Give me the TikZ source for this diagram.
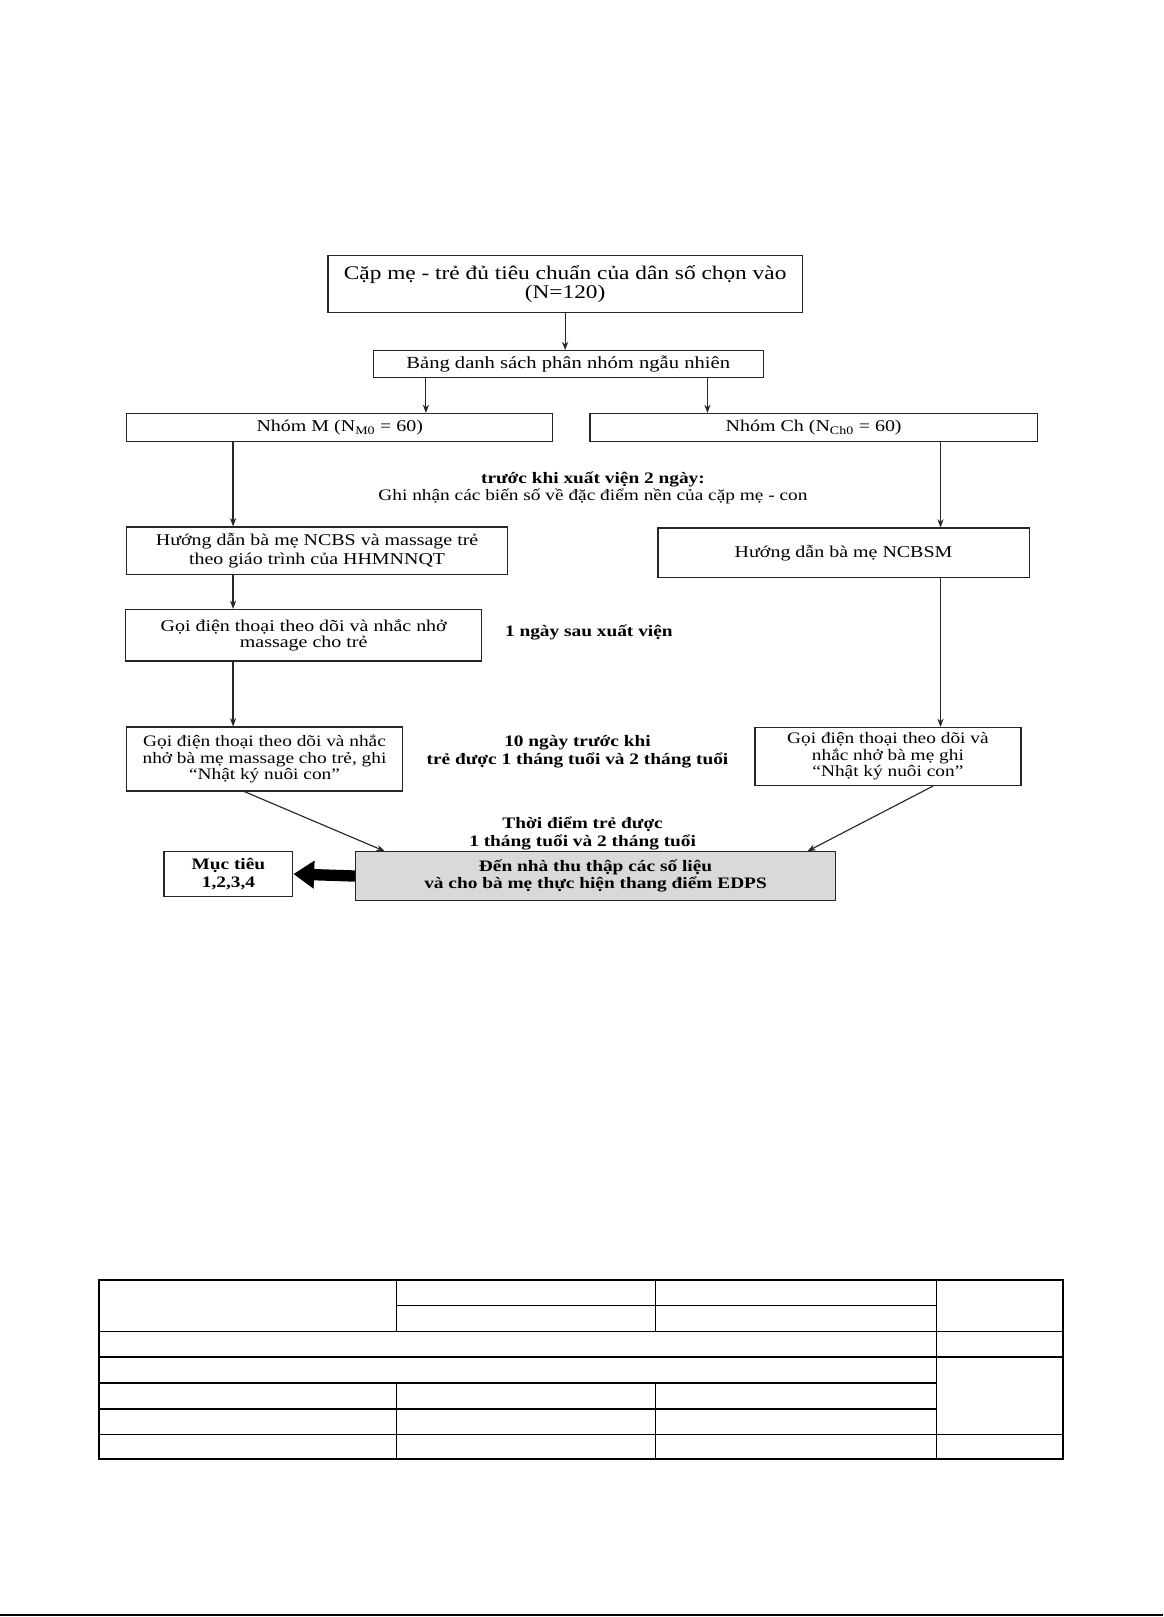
\documentclass[tikz,border=0pt]{standalone}
\usepackage{fontspec}
\setmainfont{Liberation Serif}[FakeStretch=1.21]
\usetikzlibrary{arrows.meta}
\tikzset{
  box/.style={draw=black!85, line width=1.2pt, inner sep=0pt, align=center, font=\fontsize{16}{19}\selectfont},
  lab/.style={inner sep=0pt, align=center, font=\bfseries\fontsize{15.5}{17}\selectfont},
  arr/.style={draw=black!85, line width=1.1pt, -{Stealth[length=8pt,width=6pt]}},
  tline/.style={line width=1.6pt},
  tthin/.style={line width=0.9pt},
}
\begin{document}
\begin{tikzpicture}[x=1pt,y=-1pt]
\useasboundingbox (0,0) rectangle (1128,1568);
% boxes
\node[box, minimum width=460, minimum height=55, font=\fontsize{18.7}{19}\selectfont] (b1) at (548,275.5) {Cặp mẹ - trẻ đủ tiêu chuẩn của dân số chọn vào\\(N=120)};
\node[box, minimum width=378, minimum height=26, font=\fontsize{16.5}{19}\selectfont] (b2) at (551,353) {Bảng danh sách phân nhóm ngẫu nhiên};
\node[box, minimum width=413, minimum height=27] (b3) at (329.5,414.5) {Nhóm M (N\textsubscript{M0} = 60)};
\node[box, minimum width=434, minimum height=27] (b4) at (789,414.5) {Nhóm Ch (N\textsubscript{Ch0} = 60)};
\node[lab, font=\fontsize{15.5}{16}\selectfont] (l1) at (575,473) {\textbf{trước khi xuất viện 2 ngày:}\\\mdseries Ghi nhận các biến số về đặc điểm nền của cặp mẹ - con};
\node[box, minimum width=369, minimum height=46] (b5) at (307.5,534) {Hướng dẫn bà mẹ NCBS và massage trẻ\\theo giáo trình của HHMNNQT};
\node[box, minimum width=360, minimum height=48] (b6) at (818,536) {Hướng dẫn bà mẹ NCBSM};
\node[box, minimum width=345, minimum height=50, font=\fontsize{16}{16}\selectfont] (b7) at (294.5,616) {Gọi điện thoại theo dõi và nhắc nhở\\massage cho trẻ};
\node[lab] (l2) at (571,613) {1 ngày sau xuất viện};
\node[box, minimum width=267, minimum height=62, font=\fontsize{15.5}{16}\selectfont] (b8) at (256.5,736) {Gọi điện thoại theo dõi và nhắc\\nhở bà mẹ massage cho trẻ, ghi\\“Nhật ký nuôi con”};
\node[box, minimum width=258, minimum height=56, font=\fontsize{15.5}{16}\selectfont] (b9) at (861,733.5) {Gọi điện thoại theo dõi và\\nhắc nhở bà mẹ ghi\\“Nhật ký nuôi con”};
\node[lab] (l3) at (560,729) {10 ngày trước khi\\trẻ được 1 tháng tuổi và 2 tháng tuổi};
\node[lab] (l4) at (565,808) {Thời điểm trẻ được\\1 tháng tuổi và 2 tháng tuổi};
\node[box, fill=black!15, minimum width=465, minimum height=47, font=\bfseries\fontsize{15.5}{17}\selectfont] (b10) at (577.5,849.5) {Đến nhà thu thập các số liệu\\và cho bà mẹ thực hiện thang điểm EDPS};
\node[box, minimum width=125, minimum height=43, font=\bfseries\fontsize{15.5}{17}\selectfont] (b11) at (221.5,847.5) {Mục tiêu\\1,2,3,4};
% connector x positions
\coordinate (xa) at (548,0);
\coordinate (xb) at (413,0);
\coordinate (xc) at (686,0);
\coordinate (xl) at (226,0);
\coordinate (xr) at (912,0);
\coordinate (xd1) at (237,0);
\coordinate (xd2) at (373,0);
\coordinate (xd3) at (905,0);
\coordinate (xd4) at (783,0);
% connectors
\draw[arr] (b1.south -| xa) -- (b2.north -| xa);
\draw[arr] (b2.south -| xb) -- (b3.north -| xb);
\draw[arr] (b2.south -| xc) -- (b4.north -| xc);
\draw[arr] (b3.south -| xl) -- (b5.north -| xl);
\draw[arr] (b5.south -| xl) -- (b7.north -| xl);
\draw[arr] (b7.south -| xl) -- (b8.north -| xl);
\draw[arr] (b4.south -| xr) -- (b6.north -| xr);
\draw[arr] (b6.south -| xr) -- (b9.north -| xr);
\draw[arr] (b8.south -| xd1) -- (b10.north -| xd2);
\draw[arr] (b9.south -| xd3) -- (b10.north -| xd4);
\draw[line width=11pt, -{Triangle[length=20pt,width=26pt]}] (b10.west) -- (b11.east);
% table
\draw[tthin] (384,1241) -- (384,1291);
\draw[tthin] (636,1241) -- (636,1291);
\draw[tthin] (908,1241) -- (908,1415);
\draw[tthin] (384,1341) -- (384,1415);
\draw[tthin] (636,1341) -- (636,1415);
\draw[tline] (384,1266) -- (908,1266);
\draw[tline] (96,1291) -- (1031,1291);
\draw[tline] (96,1316) -- (1031,1316);
\draw[tline] (96,1341) -- (908,1341);
\draw[tline] (96,1366) -- (908,1366);
\draw[tline] (96,1391) -- (1031,1391);
\draw[tline] (96,1241) rectangle (1031,1415);
% bottom rule
\draw[line width=2pt] (0,1566) -- (1128,1566);
\end{tikzpicture}
\end{document}
